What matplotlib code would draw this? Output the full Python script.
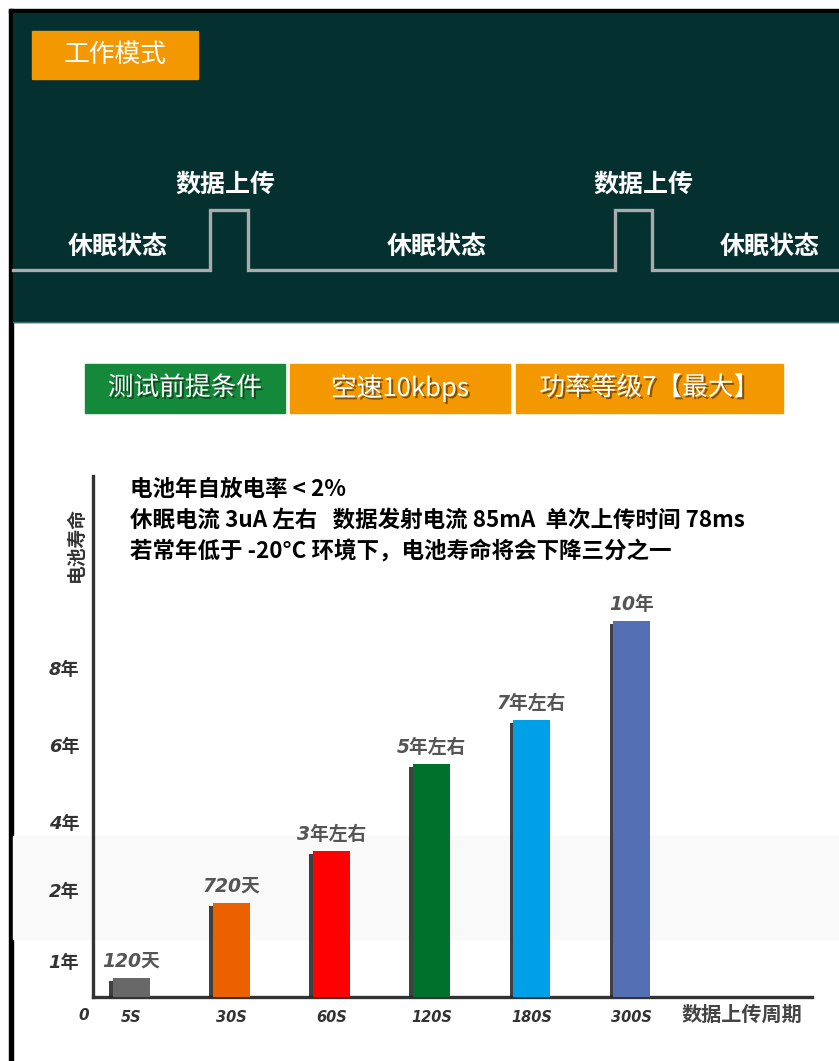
import matplotlib
matplotlib.use("Agg")
import matplotlib.pyplot as plt
import matplotlib.patheffects as pe
from matplotlib.patches import Rectangle
import numpy as np

W, H = 839, 1061
CJK = ["Noto Sans CJK SC", "DejaVu Sans"]
LAT = ["DejaVu Sans", "Noto Sans CJK SC"]

# ---- data ----
periods = ["5S", "30S", "60S", "120S", "180S", "300S"]
life_years = [0.53, 1.82, 3.15, 5.5, 6.65, 10]
life_labels = ["120天", "720天", "3年左右", "5年左右", "7年左右", "10年"]
bar_colors = ["#686868", "#eb6100", "#ff0000", "#00712d", "#00a0e9", "#546fb4"]
ytick_vals = [1, 2, 4, 6, 8]
ytick_labels = ["1年", "2年", "4年", "6年", "8年"]
notes = ["电池年自放电率 < 2%",
         "休眠电流 3uA 左右   数据发射电流 85mA  单次上传时间 78ms",
         "若常年低于 -20°C 环境下，电池寿命将会下降三分之一"]
conditions = ["测试前提条件", "空速10kbps", "功率等级7【最大】"]
cond_colors = ["#15893a", "#f39800", "#f39800"]
modes = ["休眠状态", "数据上传", "休眠状态", "数据上传", "休眠状态"]

# the original axis is not linear: tick years -> height above baseline (px)
yr_nodes = [0, 1, 2, 4, 6, 8, 10, 20]
px_nodes = [0, 36, 107, 175, 252, 329, 376, 611]

def fwd(v):
    return np.interp(v, yr_nodes, px_nodes)

def inv(p):
    return np.interp(p, px_nodes, yr_nodes)

fig = plt.figure(figsize=(W / 100, H / 100), dpi=100)
fig.patch.set_facecolor("white")

# background layer in pixel coordinates
bg = fig.add_axes([0, 0, 1, 1], zorder=0)
bg.set_xlim(0, W)
bg.set_ylim(H, 0)
bg.axis("off")

# black frame + dark panel
bg.add_patch(Rectangle((9, 9), W - 9, 4, color="black"))
bg.add_patch(Rectangle((9, 9), 4, H - 9, color="black"))
bg.add_patch(Rectangle((13, 13), W - 13, 309, color="#04302f"))
bg.plot([13, W], [322, 322], color="#3b6a68", lw=1)

# work mode tag
bg.add_patch(Rectangle((32, 31), 166, 48, color="#f39800"))
bg.text(115, 55, "工作模式", color="white", fontsize=18.5, family=CJK,
        ha="center", va="center")

# square wave
wx = [13, 210, 210, 248, 248, 615, 615, 652, 652, W]
wy = [270, 270, 210, 210, 270, 270, 210, 210, 270, 270]
bg.plot(wx, wy, color="#a9acac", lw=2.4, solid_joinstyle="miter")
mode_pos = [(118, 247), (225, 185), (437, 247), (643, 185), (770, 247)]
for (mx, my), m in zip(mode_pos, modes):
    bg.text(mx, my, m, color="white", fontsize=18, fontweight="bold",
            family=CJK, ha="center", va="center")

# condition boxes
box_x = [(85, 285), (290, 510), (516, 783)]
for (x0, x1), txt, c in zip(box_x, conditions, cond_colors):
    bg.add_patch(Rectangle((x0, 364), x1 - x0, 49, color=c))
    bg.text((x0 + x1) / 2, 388, txt, color="white", fontsize=18.5, family=CJK,
            ha="center", va="center",
            path_effects=[pe.withSimplePatchShadow(offset=(1.5, -1.5),
                                                   shadow_rgbFace="black",
                                                   alpha=0.45)])

# faint band behind the chart
bg.add_patch(Rectangle((13, 836), W - 13, 103, color="#f9f9f9"))

# notes
for i, n in enumerate(notes):
    bg.text(130, 489 + 31.5 * i, n, color="black", fontsize=16.2, fontweight="bold",
            family=CJK, ha="left", va="center")

# axis extras
bg.text(84, 1016, "0", color="#333333", fontsize=11, fontweight="bold",
        style="italic", family=LAT, ha="center", va="center")
bg.text(742, 1014, "数据上传周期", color="#444444", fontsize=14.5, fontweight="bold",
        style="italic", family=CJK, ha="center", va="center")
bg.text(76, 545, "电池寿命", color="#333333", fontsize=13.5, fontweight="bold",
        family=CJK, ha="center", va="center", rotation=90)

# ---- bar chart ----
ax = fig.add_axes([93 / W, 1 - 997 / H, (812 - 93) / W, (997 - 476) / H], zorder=1)
ax.patch.set_alpha(0)
ax.set_yscale("function", functions=(fwd, inv))
x = np.arange(len(periods))
ax.set_xlim(-0.38, 6.80)
ax.set_ylim(0, inv(521))

bars = ax.bar(x, life_years, width=0.37, color=bar_colors, zorder=3)
for b in bars:
    b.set_path_effects([pe.SimplePatchShadow(offset=(-2.5, -2), shadow_rgbFace="#1e1e1e",
                                             alpha=0.85), pe.Normal()])

for xi, v, lab in zip(x, life_years, life_labels):
    ax.annotate(lab, (xi, v), xytext=(0, 12), textcoords="offset points",
                ha="center", va="center", fontsize=13.5, fontweight="bold",
                style="italic", family=LAT, color="#555555")

for s in ["top", "right"]:
    ax.spines[s].set_visible(False)
for s in ["left", "bottom"]:
    ax.spines[s].set_color("#333333")
    ax.spines[s].set_linewidth(2.4)

ax.set_xticks(x, periods)
ax.set_yticks(ytick_vals, ytick_labels)
ax.yaxis.set_minor_locator(matplotlib.ticker.NullLocator())
ax.tick_params(axis="x", length=0, pad=9, colors="#333333")
ax.tick_params(axis="y", length=0, pad=10, colors="#333333")
for t in ax.get_xticklabels():
    t.set_family(LAT)
    t.set_fontsize(10.5)
    t.set_fontweight("bold")
    t.set_style("italic")
for t in ax.get_yticklabels():
    t.set_family(LAT)
    t.set_fontsize(13)
    t.set_fontweight("bold")
    t.set_style("italic")

fig.savefig("out.png", dpi=100)
